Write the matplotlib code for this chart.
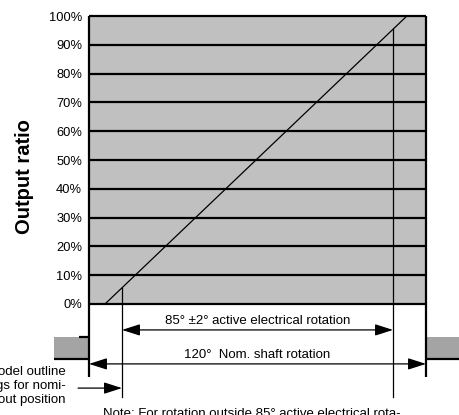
import matplotlib
matplotlib.use("Agg")
import matplotlib.pyplot as plt
from matplotlib.patches import Rectangle, FancyArrowPatch

# ---- data ----
output_ticks = [0, 10, 20, 30, 40, 50, 60, 70, 80, 90, 100]
tick_labels = [f"{t}%" for t in output_ticks]
rotation_deg = [5.7, 113.2]      # shaft angle along the chart
output_pct = [0, 100]            # output ratio
electrical_limits = [11.75, 108.25]
shaft_limits = [0, 120]
label_elec = "85° ±2° active electrical rotation"
label_shaft = "120°  Nom. shaft rotation"
left_note = ["odel outline", "gs for nomi-", "out position"]
bottom_note = "Note: For rotation outside 85° active electrical rota-"

plt.rcParams['font.family'] = ['Liberation Sans', 'DejaVu Sans']
plt.rcParams['hatch.color'] = '#6e6e6e'
plt.rcParams['hatch.linewidth'] = 0.6

W, H = 459, 415
fig = plt.figure(figsize=(W / 100, H / 100), dpi=100)
L, R, T, B = 89, 426, 16, 304
ax = fig.add_axes([L / W, 1 - B / H, (R - L) / W, (B - T) / H])
ax.set_xlim(shaft_limits)
ax.set_ylim(0, 100)
ax.set_facecolor('#c0c0c0')
for s in ax.spines.values():
    s.set_visible(False)

ax.set_yticks(output_ticks)
ax.set_yticklabels(tick_labels, fontsize=9.3)
ax.tick_params(axis='y', length=0, pad=5)
ax.set_xticks([])

# horizontal grid lines
for t in output_ticks:
    ax.plot(shaft_limits, [t, t], color='black', lw=1.6, clip_on=False,
            solid_capstyle='butt', zorder=3)

# frame verticals extending below
ybot_frame = -25.3
for x in shaft_limits:
    ax.plot([x, x], [100, ybot_frame], color='black', lw=1.6, clip_on=False,
            solid_capstyle='butt', zorder=3)

# transfer line
ax.plot(rotation_deg, output_pct, color='black', lw=0.9, zorder=4)

# electrical limit verticals
slope = (output_pct[1] - output_pct[0]) / (rotation_deg[1] - rotation_deg[0])
for x in electrical_limits:
    ytop = output_pct[0] + slope * (x - rotation_deg[0])
    ax.plot([x, x], [ytop, -32.3], color='black', lw=0.9, clip_on=False, zorder=4)

def arrow(x0, x1, y, style):
    a = FancyArrowPatch((x0, y), (x1, y), arrowstyle=style, mutation_scale=11,
                        color='black', lw=0.9, shrinkA=0, shrinkB=0,
                        clip_on=False, zorder=5)
    ax.add_patch(a)

head = '<|-|>,head_length=1.0,head_width=0.32'
arrow(electrical_limits[0], electrical_limits[1], -9.0, head)
arrow(shaft_limits[0], shaft_limits[1], -20.8, head)
ax.text(sum(electrical_limits) / 2, -5.9, label_elec, ha='center', va='center',
        fontsize=9.5)
ax.text(sum(shaft_limits) / 2, -17.7, label_shaft, ha='center', va='center',
        fontsize=9.5)

# pointer arrow from left note
arrow(-3.9, electrical_limits[0], -29.2, '-|>,head_length=1.0,head_width=0.32')
for i, line in enumerate(left_note):
    ax.text(-8.2, -23.6 - 4.85 * i, line, ha='right', va='center', fontsize=9.5)

# shaft blocks
for x0, x1 in [(-12.5, 0), (120, 140)]:
    ax.add_patch(Rectangle((x0, -19.1), x1 - x0, 7.6, facecolor='#a4a4a4',
                           edgecolor='none', hatch='xxxxxx', lw=0,
                           clip_on=False, zorder=2))
ax.plot([-12.5, 0], [-19.1, -19.1], color='black', lw=1.6, clip_on=False,
        solid_capstyle='butt')
ax.plot([120, 140], [-19.1, -19.1], color='black', lw=1.6, clip_on=False,
        solid_capstyle='butt')
ax.plot([-3.6, 0], [-11.5, -11.5], color='black', lw=1.6, clip_on=False,
        solid_capstyle='butt')

# bottom note (cut off by figure edge)
ax.text(5.0, -36.1, bottom_note, ha='left', va='top', fontsize=9.5)

# y label
fig.text(25 / W, 1 - 177 / H, "Output ratio", rotation=90, ha='center',
         va='center', fontsize=14.5, fontweight='bold')

fig.savefig("out.png", dpi=100)
